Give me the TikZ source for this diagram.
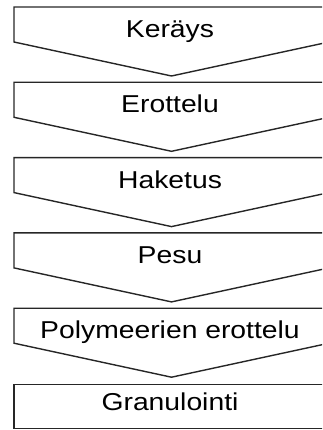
\documentclass[tikz,border=0pt]{standalone}
\usepackage{fontspec}
\setmainfont{Liberation Sans}
\begin{document}
\begin{tikzpicture}[x=1pt,y=-1pt,
  stage/.style={draw=black!85,line width=1.4pt,line join=miter},
  label/.style={anchor=base,inner sep=0pt,
    font=\fontsize{24.4}{28}\selectfont}]
\useasboundingbox (0,0) rectangle (322,430);
\clip (0,0) rectangle (322,430);
% chevron-shaped process stages, one every 75.3 units
\foreach \i/\txt in {0/Keräys,1/Erottelu,2/Haketus,3/Pesu,4/Polymeerien erottelu}{
  \pgfmathsetmacro{\t}{7+75.3*\i}
  \coordinate (tl\i) at (14,\t);
  \coordinate (tr\i) at (329,\t);
  \coordinate (bl\i) at (14,\t+35);
  \coordinate (br\i) at (329,\t+35);
  \coordinate (tip\i) at (171.5,\t+69);
  \draw[stage] (tr\i) -- (tl\i) -- (bl\i) -- (tip\i) -- (br\i) -- cycle;
  \node[label] (s\i) at (170,\t+30.5) {\scalebox{1.16}[1]{\txt}};
}
% final stage: plain box
\coordinate (tl5) at (14,384.5);
\coordinate (br5) at (329,428.5);
\draw[stage] (tl5) rectangle (br5);
\node[label] (s5) at (170,410) {\scalebox{1.16}[1]{Granulointi}};
\end{tikzpicture}
\end{document}
